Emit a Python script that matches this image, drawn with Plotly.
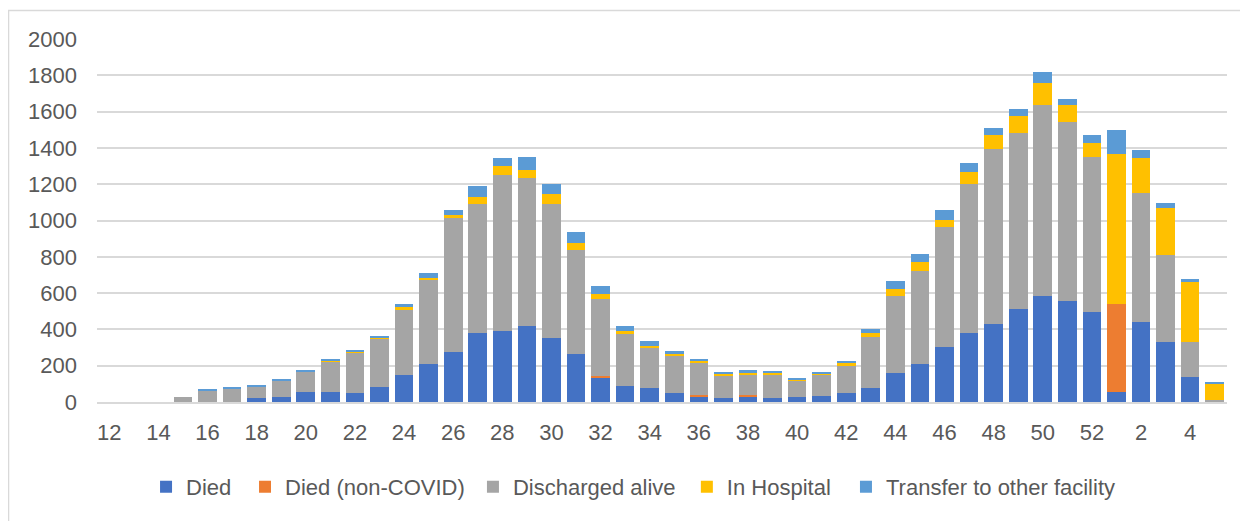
import plotly.graph_objects as go

weeks = [str(w) for w in range(12, 53)] + [str(w) for w in range(1, 6)]

died = [0, 0, 0, 0, 0, 0, 22, 27, 55, 55, 49, 82, 147, 211, 275, 379, 392, 421, 352, 266,
        136, 90, 75, 48, 31, 24, 31, 24, 25, 33, 48, 75, 159, 211, 302, 379, 429, 513, 584, 555,
        498, 55, 443, 330, 137, 0]
died_non_covid = [0, 0, 0, 0, 0, 0, 0, 0, 0, 0, 0, 0, 0, 0, 0, 0, 0, 0, 0, 0,
                  9, 0, 0, 0, 6, 0, 7, 0, 0, 0, 0, 0, 0, 0, 0, 0, 0, 0, 0, 0,
                  0, 485, 0, 0, 0, 0]
discharged = [0, 0, 0, 27, 66, 77, 62, 94, 115, 168, 224, 268, 358, 465, 741, 711, 861, 815, 738, 571,
              423, 282, 227, 210, 181, 122, 112, 126, 92, 116, 153, 282, 425, 512, 660, 824, 963, 971, 1055, 985,
              852, 0, 711, 478, 193, 10]
in_hospital = [0, 0, 0, 0, 0, 0, 0, 0, 0, 8, 7, 2, 17, 7, 13, 40, 49, 44, 58, 40,
               27, 20, 8, 9, 7, 6, 15, 10, 9, 9, 12, 22, 41, 50, 43, 63, 77, 91, 121, 99,
               77, 824, 190, 262, 331, 91]
transfer = [0, 0, 0, 0, 5, 5, 8, 7, 8, 7, 8, 12, 18, 26, 31, 59, 42, 72, 55, 59,
            44, 29, 25, 13, 13, 15, 11, 7, 6, 8, 11, 22, 43, 42, 52, 49, 38, 37, 57, 28,
            44, 136, 42, 29, 15, 7]

series = [
    ("Died", died, "#4472C4"),
    ("Died (non-COVID)", died_non_covid, "#ED7D31"),
    ("Discharged alive", discharged, "#A5A5A5"),
    ("In Hospital", in_hospital, "#FFC000"),
    ("Transfer to other facility", transfer, "#5B9BD5"),
]

tick_labels = weeks[::2]

font_color = "#595959"
grid_color = "#D9D9D9"

legend_ids = ["legend", "legend2", "legend3", "legend4", "legend5"]
legend_x = [0.0434, 0.131, 0.3327, 0.522, 0.6628]

fig = go.Figure()
for (name, vals, color), lid in zip(series, legend_ids):
    fig.add_trace(go.Bar(x=weeks, y=vals, name=name, legend=lid,
                         marker=dict(color=color, line=dict(width=0))))

legend_layout = {}
for lid, lx in zip(legend_ids, legend_x):
    legend_layout[lid] = dict(
        orientation="h",
        x=lx, xanchor="left",
        y=-0.234, yanchor="middle",
        font=dict(size=22, color=font_color),
        bgcolor="rgba(0,0,0,0)",
        borderwidth=0,
        itemclick=False,
    )

fig.update_layout(
    barmode="stack",
    bargap=0.24,
    width=1240,
    height=513,
    margin=dict(l=89, r=21, t=31, b=119),
    plot_bgcolor="white",
    paper_bgcolor="white",
    font=dict(family="Liberation Sans, Arial, sans-serif", size=22, color=font_color),
    showlegend=True,
    xaxis=dict(
        type="category",
        categoryorder="array",
        categoryarray=weeks,
        tickmode="array",
        tickvals=tick_labels,
        ticktext=tick_labels,
        showgrid=False,
        showline=True,
        linecolor=grid_color,
        linewidth=1.5,
        ticks="",
        ticklabelstandoff=10,
        tickfont=dict(size=22, color=font_color),
    ),
    yaxis=dict(
        range=[0, 2000],
        tickvals=[0, 200, 400, 600, 800, 1000, 1200, 1400, 1600, 1800, 2000],
        showgrid=True,
        gridcolor=grid_color,
        gridwidth=1.5,
        zeroline=False,
        showline=False,
        ticks="",
        ticklabelstandoff=19,
        tickfont=dict(size=22, color=font_color),
    ),
    shapes=[
        dict(type="rect", xref="paper", yref="paper",
             x0=-0.0783, x1=1.05, y0=-0.4, y1=1.0785,
             line=dict(color=grid_color, width=1.5), fillcolor="rgba(0,0,0,0)", layer="below"),
    ],
    **legend_layout,
)

fig.write_html("out.html")
